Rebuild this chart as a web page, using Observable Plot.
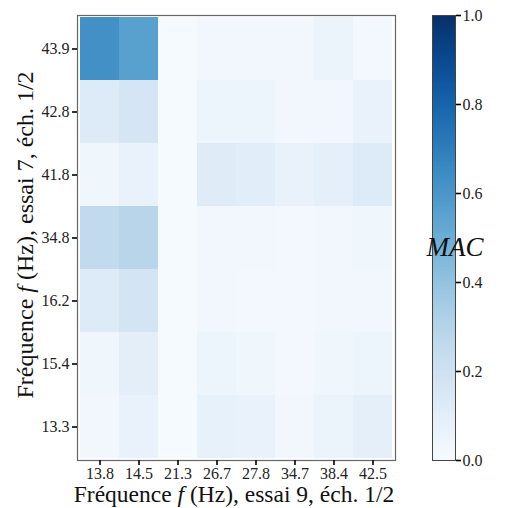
<!DOCTYPE html>
<html>
<head>
<meta charset="utf-8">
<script src="https://cdn.jsdelivr.net/npm/d3@7"></script>
<script src="https://cdn.jsdelivr.net/npm/@observablehq/plot@0.6"></script>
<style>
  html, body { margin: 0; padding: 0; background: white; }
  #wrap { position: relative; width: 518px; height: 508px; }
  #wrap svg { position: absolute; top: 0; }
</style>
</head>
<body>
<div id="wrap"></div>
<script>
const xLabels = ["13.8", "14.5", "21.3", "26.7", "27.8", "34.7", "38.4", "42.5"];
const yLabels = ["43.9", "42.8", "41.8", "34.8", "16.2", "15.4", "13.3"];
// MAC values, one row per y label (top to bottom), columns follow xLabels
const row439 = [0.63, 0.56, 0.01, 0.03, 0.03, 0.03, 0.06, 0.02];
const row428 = [0.13, 0.17, 0.01, 0.05, 0.05, 0.03, 0.03, 0.07];
const row418 = [0.04, 0.07, 0.01, 0.12, 0.11, 0.07, 0.09, 0.13];
const row348 = [0.26, 0.29, 0.01, 0.03, 0.03, 0.02, 0.03, 0.04];
const row162 = [0.13, 0.18, 0.01, 0.03, 0.02, 0.02, 0.03, 0.03];
const row154 = [0.04, 0.10, 0.01, 0.05, 0.04, 0.02, 0.04, 0.05];
const row133 = [0.03, 0.07, 0.01, 0.08, 0.07, 0.03, 0.06, 0.09];
const rows = [row439, row428, row418, row348, row162, row154, row133];
const cbTicks = [0, 0.2, 0.4, 0.6, 0.8, 1.0];

const data = [];
rows.forEach((r, i) => r.forEach((v, j) => data.push({x: xLabels[j], y: yLabels[i], v})));

const font = "'Liberation Serif', 'DejaVu Serif', serif";
const colorOpts = {type: "linear", scheme: "blues", domain: [0, 1]};

const main = Plot.plot({
  width: 518, height: 508,
  marginLeft: 77, marginRight: 123, marginTop: 15, marginBottom: 48,
  style: {fontFamily: font, fontSize: "16px", color: "black", background: "transparent"},
  x: {domain: xLabels, padding: 0, label: null},
  y: {domain: yLabels, padding: 0, label: null},
  color: colorOpts,
  marks: [
    Plot.cell(data, {x: "x", y: "y", fill: "v"}),
    Plot.frame({stroke: "#666", strokeWidth: 1.2}),
    Plot.axisX({tickSize: 5, tickPadding: 2, strokeWidth: 1.6, label: null, fill: "#222"}),
    Plot.axisY({tickSize: 5, tickPadding: 3, strokeWidth: 1.6, label: null, fill: "#222"})
  ]
});
main.style.left = "0px";

const cb = Plot.plot({
  width: 118, height: 508,
  marginLeft: 32, marginRight: 63, marginTop: 15, marginBottom: 48,
  style: {fontFamily: font, fontSize: "16px", color: "black", background: "transparent"},
  x: {domain: [0, 1], axis: null},
  y: {domain: [0, 1], label: null},
  color: colorOpts,
  marks: [
    Plot.raster({x1: 0, x2: 1, y1: 0, y2: 1, width: 1, height: 256, fill: (x, y) => y}),
    Plot.frame({stroke: "#444", strokeWidth: 1}),
    Plot.axisY({anchor: "right", ticks: cbTicks, tickFormat: d3.format(".1f"), tickSize: 5, tickPadding: 2, strokeWidth: 1.6, label: null, fill: "#222"})
  ]
});
cb.style.left = "400px";

const wrap = document.getElementById("wrap");
wrap.appendChild(main);
wrap.appendChild(cb);

// axis titles with italic f
const svg = d3.select(main);
function addLabel(sel, parts) {
  parts.forEach(([t, it]) => {
    const ts = sel.append("tspan").text(t);
    if (it) ts.attr("font-style", "italic");
  });
}
const xl = svg.append("text")
  .attr("x", 234).attr("y", 502)
  .attr("text-anchor", "middle")
  .attr("font-family", font).attr("font-size", 23.5).attr("fill", "#111");
addLabel(xl, [["Fréquence ", false], ["f", true], [" (Hz), essai 9, éch. 1/2", false]]);

const yl = svg.append("text")
  .attr("transform", "translate(33,235) rotate(-90)")
  .attr("text-anchor", "middle")
  .attr("font-family", font).attr("font-size", 24).attr("fill", "#111");
addLabel(yl, [["Fréquence ", false], ["f", true], [" (Hz), essai 7, éch. 1/2", false]]);

d3.select(cb).append("text")
  .attr("x", 55).attr("y", 256)
  .attr("font-family", font).attr("font-size", 27).attr("font-style", "italic").attr("fill", "#111")
  .text("MAC");
</script>
</body>
</html>
